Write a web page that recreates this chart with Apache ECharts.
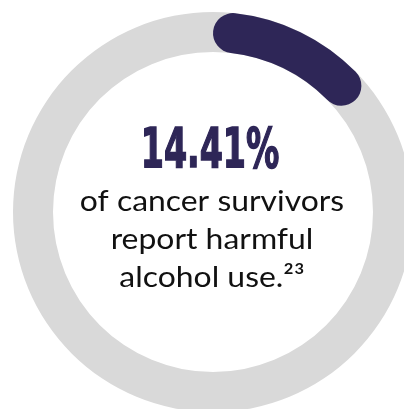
<!DOCTYPE html>
<html>
<head>
<meta charset="utf-8">
<script src="https://cdn.jsdelivr.net/npm/echarts@6/dist/echarts.min.js"></script>
<style>
html,body{margin:0;padding:0;background:#fff;}
#c{width:404px;height:409px;}
</style>
</head>
<body>
<div id="c"></div>
<script>
const categories = ["harmful alcohol use"];
const shareValue = [14.41];
const scaleRange = [0, 100];
const headline = ["14.41%"];
const captionLines = ["of cancer survivors", "report harmful", "alcohol use.²³"];

const navy = '#2e2657';
const gray = '#d9d9d9';
const ringInner = 160, ringOuter = 200;

// round caps sit inside the arc's angular span
const capDeg = Math.asin(((ringOuter - ringInner) / 2) / ((ringOuter + ringInner) / 2)) * 180 / Math.PI;
const fullSpanDeg = (shareValue[0] - scaleRange[0]) / (scaleRange[1] - scaleRange[0]) * 360;
const axisMax = scaleRange[0] + (shareValue[0] - scaleRange[0]) * 360 / (fullSpanDeg - 2 * capDeg);

const chart = echarts.init(document.getElementById('c'), null, {renderer: 'canvas'});
const lineY = [202, 240, 278];
const graphics = [{
  type: 'text',
  x: 210, y: 152,
  scaleX: 0.66,
  style: {
    text: headline[0],
    fontFamily: "'DejaVu Sans Condensed', 'DejaVu Sans', sans-serif",
    fontWeight: 'bold',
    fontSize: 56,
    fill: navy,
    stroke: navy,
    lineWidth: 1.5,
    align: 'center',
    verticalAlign: 'middle'
  }
}];
captionLines.forEach((t, i) => {
  graphics.push({
    type: 'text',
    x: 212, y: lineY[i],
    scaleX: 1.1,
    style: {
      text: t,
      fontFamily: "Lato, sans-serif",
      fontSize: 29,
      fill: '#111',
      align: 'center',
      verticalAlign: 'middle'
    }
  });
});

chart.setOption({
  animation: false,
  polar: {center: [213, 212], radius: [ringInner, ringOuter]},
  angleAxis: {
    min: scaleRange[0], max: axisMax, startAngle: 90 - capDeg, clockwise: true,
    show: false
  },
  radiusAxis: {type: 'category', data: categories, show: false},
  series: [{
    type: 'bar',
    coordinateSystem: 'polar',
    data: shareValue,
    barWidth: ringOuter - ringInner,
    roundCap: true,
    showBackground: true,
    backgroundStyle: {color: gray},
    itemStyle: {color: navy}
  }],
  graphic: graphics
});
</script>
</body>
</html>
